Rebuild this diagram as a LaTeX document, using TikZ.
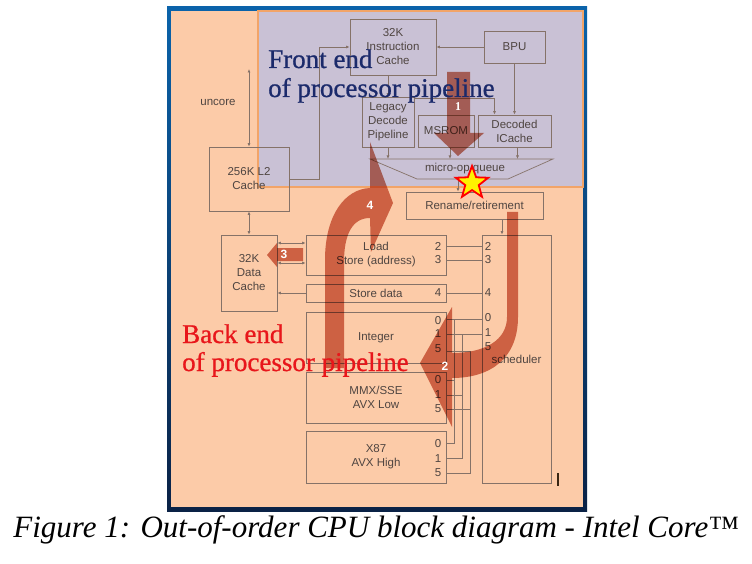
\documentclass[tikz,border=0pt]{standalone}
\usepackage{fontspec}
\setmainfont{Liberation Serif}
\newfontfamily\arial{Liberation Sans}
\newfontfamily\titlefont[FakeBold=0.8]{Liberation Serif}
\usetikzlibrary{shapes.geometric,arrows.meta}
\definecolor{peach}{HTML}{FCCBA8}
\definecolor{lav}{HTML}{C9C1D5}
\definecolor{lineg}{HTML}{857268}
\definecolor{txtg}{HTML}{4F4541}
\definecolor{arr}{HTML}{D07A66}
\definecolor{navy}{HTML}{1B2A6B}
\definecolor{bered}{HTML}{E8161B}
\definecolor{ovb}{HTML}{F2A468}
\definecolor{frameA}{HTML}{0B63AA}
\definecolor{frameB}{HTML}{0A2246}
\begin{document}
\begin{tikzpicture}[x=1pt,y=-1pt,
  box/.style={draw=lineg, line width=0.7pt, inner sep=0pt, text=txtg, font=\arial\fontsize{11.5}{14}\selectfont, align=center},
  lbl/.style={text=txtg, font=\arial\fontsize{11.5}{14}\selectfont, inner sep=0pt},
  conn/.style={draw=lineg, line width=0.7pt},
  arw/.style={conn, -{Latex[length=3.5pt,width=3pt]}},
  darw/.style={conn, {Latex[length=3.5pt,width=3pt]}-{Latex[length=3.5pt,width=3pt]}},
  numlbl/.style={text=white, font=\arial\bfseries\fontsize{12}{14}\selectfont, inner sep=0pt},
  bigtext/.style={font=\titlefont\fontsize{27}{29}\selectfont, inner sep=0pt, anchor=base west},
]
\useasboundingbox (0,0) rectangle (752,564);
\fill[white] (0,0) rectangle (752,564);
% frame
\shade[top color=frameA, bottom color=frameB] (167,7) rectangle (587,511);
\fill[peach] (171,11) rectangle (583,507);
% front-end overlay
\filldraw[fill=lav, draw=ovb, line width=1.2pt] (258,11) rectangle (583,187);

% boxes
\node[box, minimum width=86pt, minimum height=56pt] (ic) at (393,47) {32K\\Instruction\\Cache};
\node[box, minimum width=61pt, minimum height=32pt] (bpu) at (514.5,47) {BPU};
\node[box, minimum width=52pt, minimum height=50pt] (legacy) at (388,122) {Legacy\\Decode\\Pipeline};
\node[box, minimum width=56pt, minimum height=32pt] (msrom) at (446,131) {MSROM};
\node[box, minimum width=73pt, minimum height=32pt] (dic) at (514.5,131) {Decoded\\ICache};
\node[box, minimum width=80pt, minimum height=64pt] (l2) at (249,179) {256K L2\\Cache};
\node[box, minimum width=137pt, minimum height=27pt] (rename) at (474.5,205.5) {Rename/retirement};
\node[box, minimum width=56pt, minimum height=76pt] (dcache) at (249,273) {32K\\Data\\Cache};
\node[box, minimum width=140pt, minimum height=40pt] (load) at (376,255) {Load\\Store (address)};
\node[box, minimum width=140pt, minimum height=18pt] (stdata) at (376,293) {Store data};
\node[box, minimum width=140pt, minimum height=51pt] (int) at (376,337.5) {Integer};
\node[box, minimum width=140pt, minimum height=51pt] (mmx) at (376,397.5) {MMX/SSE\\AVX Low};
\node[box, minimum width=140pt, minimum height=52pt] (x87) at (376,457) {X87\\AVX High};
\node[box, minimum width=69pt, minimum height=248pt] (sched) at (516.5,359) {scheduler};

% micro-op queue
\coordinate (qtl) at (370,159);
\coordinate (qtr) at (553,159);
\coordinate (qbr) at (508,179);
\coordinate (qbl) at (417,179);
\draw[conn] (qtl) -- (qtr) -- (qbr) -- (qbl) -- cycle;
\node[lbl] (mq) at (465,169) {micro-op queue};
\coordinate (qb) at (458,179);

\node[lbl] (uncl) at (218,102) {uncore};
\coordinate (unc) at (249,69);

% port labels
\foreach \n/\y in {2/246,3/260,4/293,0/321,1/334,5/349,0/380,1/395,5/409,0/444,1/459,5/473}
  \node[lbl] at (438,\y) {\n};
\foreach \n/\y in {2/246,3/260,4/293,0/318,1/333,5/347}
  \node[lbl] at (488,\y) {\n};

% connectors
\draw[darw] (unc) -- (l2.north);
\draw[arw] (l2.east) -- ++(30,0) |- (ic.west);
\draw[arw] (bpu.west) -- (ic.east);
\draw[arw] (bpu.south) -- (dic.north);
\draw[arw] (ic.south -| legacy.north) -- (legacy.north);
\draw[arw] ([yshift=-2pt]legacy.north east) -| ([xshift=-20pt]dic.north);
\draw[arw] (legacy.south) -- (legacy.south |- qtl);
\draw[arw] ([xshift=4pt]msrom.south) -- ([xshift=4pt]msrom.south |- qtl);
\draw[arw] ([xshift=3pt]dic.south) -- ([xshift=3pt]dic.south |- qtl);
\draw[arw] (qb) -- (qb |- rename.north);
\draw[arw] (rename.south -| 502,0) -- (sched.north -| 502,0);
\draw[darw] (l2.south) -- (dcache.north);
\draw[darw] (dcache.east |- 0,243) -- (load.west |- 0,243);
\draw[darw] (dcache.east |- 0,263) -- (load.west |- 0,263);
\draw[arw] (stdata.west) -- (dcache.east |- stdata.west);
\draw[conn] (load.east |- 0,246) -- (sched.west |- 0,246);
\draw[conn] (load.east |- 0,260) -- (sched.west |- 0,260);
\draw[conn] (stdata.east) -- (sched.west |- stdata.east);
\coordinate (b0) at (454,0);
\coordinate (b1) at (462,0);
\coordinate (b5) at (470,0);
\draw[conn] (int.east |- 0,319) -- (sched.west |- 0,319);
\draw[conn] (int.east |- 0,334) -- (sched.west |- 0,334);
\draw[conn] (int.east |- 0,351) -- (b5 |- 0,351);
\draw[conn] (b0 |- 0,319) -- (b0 |- 0,443) -- (x87.east |- 0,443);
\draw[conn] (b1 |- 0,334) -- (b1 |- 0,458) -- (x87.east |- 0,458);
\draw[conn] (b5 |- 0,351) -- (b5 |- 0,473) -- (x87.east |- 0,473);
\draw[conn] (mmx.east |- 0,380) -- (b0 |- 0,380);
\draw[conn] (mmx.east |- 0,395) -- (b1 |- 0,395);
\draw[conn] (mmx.east |- 0,409) -- (b5 |- 0,409);
\draw[line width=1.3pt, draw=black!70!brown] (558,473) -- (558,486);

% big translucent arrows
\begin{scope}[blend mode=multiply]
\fill[arr] (447,72) -- (470,72) -- (470,133) -- (484,133) -- (458,156) -- (434,133) -- (447,133) -- cycle;
\fill[arr] (325,368) -- (325,260) .. controls (325,215) and (345,189) .. (370,188) -- (370,142) -- (393,203) -- (371,252) -- (370,218) .. controls (352,218) and (344,235) .. (344,262) -- (344,368) -- cycle;
\fill[arr] (507,212) -- (518,212) -- (518,317) .. controls (518,357) and (492,378) .. (452,378) -- (452,427) -- (420,363) -- (452,307) -- (452,353) .. controls (485,353) and (507,340) .. (507,317) -- cycle;
\fill[arr] (303,248) -- (303,261) -- (277,261) -- (277,267) -- (267,255) -- (277,243) -- (277,248) -- cycle;
\end{scope}
\node[text=white, font=\bfseries\fontsize{12}{14}\selectfont, inner sep=0pt] (n1) at (458,107) {1};
\node[numlbl] (n4) at (370,205) {4};
\node[numlbl] (n2) at (445,366) {2};
\node[numlbl] (n3) at (284,254) {3};

% titles
\node[bigtext, text=navy] (fe1) at (268,68) {Front end};
\node[bigtext, text=navy] (fe2) at (268,97) {of processor pipeline};
\node[bigtext, text=bered] (be1) at (182,343) {Back end};
\node[bigtext, text=bered] (be2) at (182,371) {of processor pipeline};

% star
\node[star, star points=5, star point ratio=2.4, fill=yellow, draw=red, line width=1.8pt, minimum size=34pt, inner sep=0pt] (star) at (472,183) {};

% caption
\node[font=\itshape\fontsize{31}{33}\selectfont, anchor=base, inner sep=0pt] (cap) at (376,537) {Figure 1: Out-of-order CPU block diagram - Intel Core™};
\end{tikzpicture}
\end{document}
